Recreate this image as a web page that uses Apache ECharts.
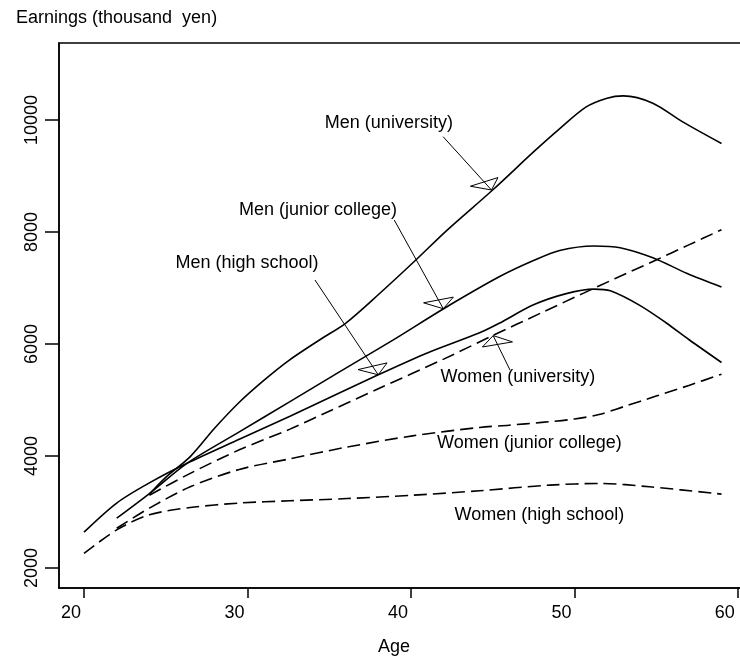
<!DOCTYPE html>
<html><head><meta charset="utf-8">
<script src="https://cdn.jsdelivr.net/npm/echarts@6/dist/echarts.min.js"></script>
<style>html,body{margin:0;padding:0;background:#fff}#c{width:740px;height:662px}</style>
</head><body><div id="c"></div>
<script>
// ---- data ----
const xTicks = [20, 30, 40, 50, 60];
const yTicks = [2000, 4000, 6000, 8000, 10000];

const menUnivAge = [24, 25, 26.5, 28, 29.5, 31, 32.5, 34.5, 36, 38, 40.3, 42.2, 45, 47.5, 49, 50.7, 52, 53, 54.8, 56.6, 59];
const menUnivVal = [3320, 3620, 3990, 4500, 4960, 5350, 5700, 6090, 6370, 6880, 7500, 8030, 8750, 9430, 9820, 10230, 10390, 10430, 10300, 9970, 9580];

const menJcAge = [22, 24, 26.3, 29.5, 32.6, 35.5, 38.9, 42, 45.4, 47.5, 49.1, 51.2, 52.8, 54.8, 56.9, 59];
const menJcVal = [2890, 3330, 3870, 4430, 4970, 5480, 6070, 6630, 7200, 7490, 7670, 7750, 7720, 7540, 7260, 7020];

const menHsAge = [20, 22, 24, 26.3, 29.5, 32.6, 35, 38, 41, 44.2, 45.4, 47.5, 49.5, 51.2, 52.2, 54, 55.6, 57, 59];
const menHsVal = [2640, 3160, 3520, 3870, 4300, 4710, 5040, 5450, 5840, 6200, 6370, 6700, 6900, 6980, 6950, 6690, 6380, 6080, 5670];

const womUnivAge = [24, 26.5, 29.5, 32.6, 35, 38, 42, 45, 48, 50.5, 52.5, 55, 57, 59];
const womUnivVal = [3300, 3690, 4110, 4480, 4800, 5200, 5730, 6150, 6560, 6900, 7170, 7500, 7770, 8040];

const womJcAge = [22, 24, 26.5, 29.5, 32.6, 36.1, 40.1, 44.2, 46, 48, 50, 51.5, 53, 55, 57, 59];
const womJcVal = [2710, 3070, 3450, 3760, 3950, 4160, 4360, 4510, 4550, 4600, 4660, 4740, 4880, 5070, 5260, 5460];

const womHsAge = [20, 22, 24, 26.5, 29.5, 32.6, 36.1, 40.1, 44.2, 48.5, 51.6, 54.6, 59];
const womHsVal = [2260, 2680, 2950, 3080, 3160, 3200, 3240, 3300, 3380, 3480, 3510, 3450, 3320];

const labelTexts = ['Men (university)', 'Men (junior college)', 'Men (high school)', 'Women (university)', 'Women (junior college)', 'Women (high school)'];
const labelAge = [38.65, 34.31, 29.97, 46.54, 47.25, 47.86];
const labelVal = [9946, 8393, 7446, 5411, 4232, 2946];

const arrowFromAge = [41.97, 38.98, 34.13, 46.06];
const arrowFromVal = [9702, 8214, 7143, 5536];
const arrowToAge = [44.93, 41.98, 38.0, 45.03];
const arrowToVal = [8750, 6630, 5450, 6150];

// ---- chart ----
const FONT = '"Liberation Sans", Arial, Helvetica, sans-serif';
const chart = echarts.init(document.getElementById('c'), null, {renderer: 'canvas'});

function pairs(a, v) { return a.map((x, i) => [x, v[i]]); }
const seriesDefs = [
  [menUnivAge, menUnivVal, 'solid'],
  [menJcAge, menJcVal, 'solid'],
  [menHsAge, menHsVal, 'solid'],
  [womUnivAge, womUnivVal, 'dashed'],
  [womJcAge, womJcVal, 'dashed'],
  [womHsAge, womHsVal, 'dashed']
];

chart.setOption({
  animation: false,
  backgroundColor: '#fff',
  title: {
    text: 'Earnings (thousand  yen)', left: 11, top: 4,
    textStyle: {fontFamily: FONT, fontSize: 18, fontWeight: 'normal', color: '#000'}
  },
  grid: {left: 59, top: 43, width: 688, height: 545, show: true, borderColor: '#000', borderWidth: 1.5,
         containLabel: false, outerBoundsMode: 'none'},
  xAxis: {
    type: 'value', min: 18.47, max: 60.56,
    name: 'Age', nameLocation: 'middle', nameGap: 50,
    nameTextStyle: {fontFamily: FONT, fontSize: 18, color: '#000', padding: [0, 18, 0, 0]},
    axisLine: {show: true, onZero: false, lineStyle: {color: '#000', width: 1.5}},
    axisTick: {show: true, length: 10, customValues: xTicks, lineStyle: {color: '#000', width: 1.5}},
    axisLabel: {customValues: xTicks, fontFamily: FONT, fontSize: 18, color: '#000', margin: 16,
                padding: [0, 26, 0, 0], formatter: v => String(v)},
    splitLine: {show: false}
  },
  yAxis: {
    type: 'value', min: 1643, max: 11375,
    axisLine: {show: true, onZero: false, lineStyle: {color: '#000', width: 1.5}},
    axisTick: {show: true, length: 14, customValues: yTicks, lineStyle: {color: '#000', width: 1.5}},
    axisLabel: {customValues: yTicks, rotate: 90, fontFamily: FONT, fontSize: 18, color: '#000', margin: 18,
                formatter: v => String(v)},
    splitLine: {show: false}
  },
  series: seriesDefs.map(d => ({
    type: 'line', data: pairs(d[0], d[1]), showSymbol: false, symbol: 'none',
    smooth: 0.3, silent: true,
    lineStyle: {color: '#000', width: 1.6, type: d[2] === 'dashed' ? [13, 6] : 'solid'}
  }))
});

// ---- annotations (positioned through the axes) ----
const px = (x, y) => chart.convertToPixel({gridIndex: 0}, [x, y]);
const graphics = [];
labelTexts.forEach((t, i) => {
  const p = px(labelAge[i], labelVal[i]);
  graphics.push({type: 'text', x: p[0], y: p[1], silent: true,
    style: {text: t, font: '18px ' + FONT, fill: '#000', align: 'center', verticalAlign: 'middle'}});
});
const HEAD_L = 13, XSQ = 1.7, ANG = Math.PI / 4;
arrowToAge.forEach((a, i) => {
  const s = px(arrowFromAge[i], arrowFromVal[i]);
  const t = px(a, arrowToVal[i]);
  graphics.push({type: 'line', silent: true, shape: {x1: s[0], y1: s[1], x2: t[0], y2: t[1]},
    style: {stroke: '#000', lineWidth: 1}});
  let bx = (s[0] - t[0]) / XSQ, by = s[1] - t[1];
  const n = Math.hypot(bx, by); bx /= n; by /= n;
  const c = Math.cos(ANG), sn = Math.sin(ANG);
  const v1 = [t[0] + HEAD_L * (c * bx - sn * by) * XSQ, t[1] + HEAD_L * (sn * bx + c * by)];
  const v2 = [t[0] + HEAD_L * (c * bx + sn * by) * XSQ, t[1] + HEAD_L * (-sn * bx + c * by)];
  graphics.push({type: 'polygon', silent: true, shape: {points: [t, v1, v2]},
    style: {stroke: '#000', lineWidth: 1, fill: null}});
});
chart.setOption({graphic: graphics});
</script>
</body></html>
